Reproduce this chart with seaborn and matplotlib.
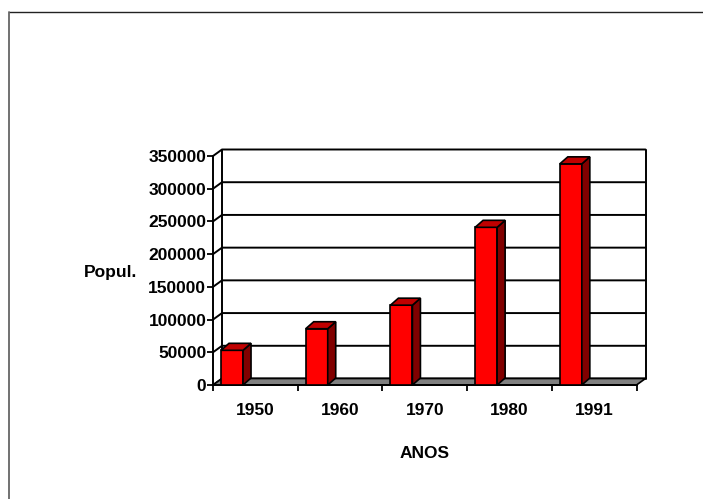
import numpy as np
import pandas as pd
import matplotlib
matplotlib.use("Agg")
import matplotlib.pyplot as plt
import matplotlib.transforms as mtransforms
from matplotlib.patches import Polygon
from matplotlib.lines import Line2D
import seaborn as sns

# Population by census year
anos = ["1950", "1960", "1970", "1980", "1991"]
popul = [53000, 86000, 122000, 241000, 338000]
y_ticks = [0, 50000, 100000, 150000, 200000, 250000, 300000, 350000]

sns.set_theme(style="white")
plt.rcParams["font.family"] = ["Liberation Sans", "DejaVu Sans"]
plt.rcParams["font.weight"] = "bold"
plt.rcParams["text.color"] = "black"
plt.rcParams["axes.labelcolor"] = "black"
plt.rcParams["xtick.color"] = "black"
plt.rcParams["ytick.color"] = "black"

W, H = 703, 499
fig = plt.figure(figsize=(W / 100, H / 100), dpi=100)
fig.patch.set_facecolor("white")
ax = fig.add_axes([213 / W, (H - 385) / H, (636.5 - 213) / W, (385 - 156) / H])
ax.set_facecolor("none")

df = pd.DataFrame({"ANOS": anos, "Popul.": popul})
sns.barplot(data=df, x="ANOS", y="Popul.", color="#FF0000", saturation=1,
            width=0.26, edgecolor="black", linewidth=1.2, ax=ax, zorder=3)
bars = list(ax.patches)
# columns sit toward the left of each category slot
for p in bars:
    p.set_x(p.get_x() - 0.2755)

ax.set_xlim(-0.5, 4.5)
ax.set_ylim(0, 350000)
ax.set_yticks(y_ticks)
ax.set_yticklabels([str(v) for v in y_ticks])
ax.set_xticks(range(len(anos)))
ax.set_xticklabels(anos)
ax.set_xticks(np.arange(-0.5, len(anos), 1.0), minor=True)
ax.tick_params(axis="x", which="major", length=0, pad=13, labelsize=12.5)
ax.tick_params(axis="x", which="minor", length=4.5, width=1.3, bottom=True,
               direction="out", color="black")
ax.tick_params(axis="y", which="major", length=4.3, width=1.3, left=True,
               direction="out", pad=0.5, labelsize=12.5, color="black")
for lab in ax.get_xticklabels() + ax.get_yticklabels():
    lab.set_fontweight("bold")
    lab.set_color("black")

for s in ("top", "right"):
    ax.spines[s].set_visible(False)
for s in ("left", "bottom"):
    ax.spines[s].set_color("black")
    ax.spines[s].set_linewidth(1.4)
    ax.spines[s].set_zorder(2.5)

ax.set_ylabel("Popul.", rotation=0, ha="right", va="center", fontsize=12.5,
              fontweight="bold", color="black")
ax.yaxis.set_label_coords(-0.179, 0.493)
ax.set_xlabel("ANOS", ha="center", va="center", fontsize=12.5,
              fontweight="bold", color="black")
ax.xaxis.set_label_coords(0.5, -0.301)

# 3-D walls, floor and column sides in pixel space
D = mtransforms.IdentityTransform()


def px(x, y):
    return ax.transData.transform((x, y))


wdx, wdy = 9, 6.5
x0, x1 = ax.get_xlim()
for v in y_ticks:
    fx0, fy = px(x0, v)
    fx1, _ = px(x1, v)
    ax.add_line(Line2D([fx0, fx0 + wdx, fx1 + wdx], [fy, fy + wdy, fy + wdy],
                       transform=D, color="black", lw=1.4, clip_on=False,
                       zorder=0.8))
lb = px(x0, 0)
rt = px(x1, y_ticks[-1])
for xx in (lb[0] + wdx, rt[0] + wdx):
    ax.add_line(Line2D([xx, xx], [lb[1] + wdy, rt[1] + wdy], transform=D,
                       color="black", lw=1.4, clip_on=False, zorder=0.8))

rb = px(x1, 0)
floor = Polygon([lb, rb, (rb[0] + wdx, rb[1] + wdy), (lb[0] + wdx, lb[1] + wdy)],
                closed=True, transform=D, facecolor="#808080",
                edgecolor="black", lw=1.2, clip_on=False, zorder=1)
ax.add_patch(floor)

bdx, bdy = 8, 7
for p in bars:
    xl, yb = px(p.get_x(), 0)
    xr, yt = px(p.get_x() + p.get_width(), p.get_height())
    side = Polygon([(xr, yb), (xr + bdx, yb + bdy), (xr + bdx, yt + bdy), (xr, yt)],
                   closed=True, transform=D, facecolor="#800000",
                   edgecolor="black", lw=1.2, clip_on=False, zorder=3)
    top = Polygon([(xl, yt), (xr, yt), (xr + bdx, yt + bdy), (xl + bdx, yt + bdy)],
                  closed=True, transform=D, facecolor="#C00000",
                  edgecolor="black", lw=1.2, clip_on=False, zorder=3)
    ax.add_patch(side)
    ax.add_patch(top)

# outer chart frame
fig.add_artist(Line2D([9, W], [H - 12, H - 12], transform=D, color="#222222", lw=1.0))
fig.add_artist(Line2D([9, 9], [0, H - 12], transform=D, color="#666666", lw=1.3))

fig.savefig("out.png", dpi=100)
